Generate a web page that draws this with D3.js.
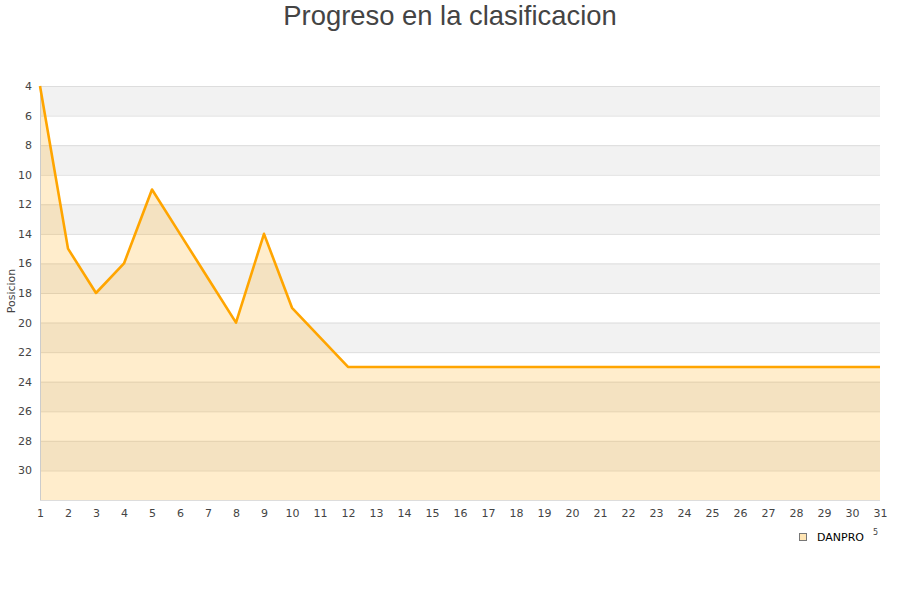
<!DOCTYPE html>
<html>
<head>
<meta charset="utf-8">
<script src="https://cdn.jsdelivr.net/npm/d3@7"></script>
<style>
  html, body { margin: 0; padding: 0; background: #fff; }
  svg { display: block; }
</style>
</head>
<body>
<svg id="chart" width="900" height="600"></svg>
<script>
// Round number (jornada) and the team's league position after it
const rounds = d3.range(1, 32);
const positions = [4, 15, 18, 16, 11, 14, 17, 20, 14, 19, 21, 23,
  23, 23, 23, 23, 23, 23, 23, 23, 23, 23, 23, 23, 23, 23, 23, 23, 23, 23, 23];
const yTicks = [4, 6, 8, 10, 12, 14, 16, 18, 20, 22, 24, 26, 28, 30];
const seriesName = "DANPRO";

const svg = d3.select("#chart");
const W = 900, H = 600;
const m = { left: 40, right: 20, top: 86, bottom: 100 };

const x = d3.scaleLinear().domain([1, 31]).range([m.left, W - m.right]);
const y = d3.scaleLinear().domain([4, 32]).range([m.top, H - m.bottom]);

// Title
svg.append("text")
  .attr("x", W / 2).attr("y", 25)
  .attr("text-anchor", "middle")
  .attr("font-family", "Liberation Sans, Arial, sans-serif")
  .attr("font-size", 27.4)
  .attr("fill", "#444")
  .text("Progreso en la clasificacion");

// Alternating horizontal bands, two positions each
const bands = d3.range(4, 32, 2);
svg.append("g").selectAll("rect")
  .data(bands)
  .join("rect")
  .attr("x", m.left)
  .attr("width", W - m.right - m.left)
  .attr("y", d => y(d))
  .attr("height", d => y(d + 2) - y(d))
  .attr("fill", (d, i) => i % 2 === 0 ? "#f2f2f2" : "#ffffff");

// Grid lines
svg.append("g").selectAll("line")
  .data(yTicks.concat([32]))
  .join("line")
  .attr("x1", m.left).attr("x2", W - m.right)
  .attr("y1", d => y(d) + 0.5).attr("y2", d => y(d) + 0.5)
  .attr("stroke", "#dddddd").attr("stroke-width", 1);

// Area under the position line
const pts = rounds.map((r, i) => [r, positions[i]]);
svg.append("path")
  .datum(pts)
  .attr("fill", "rgba(255,165,0,0.2)")
  .attr("d", d3.area().x(d => x(d[0])).y0(y(32)).y1(d => y(d[1])));

// Plot frame: left axis line
svg.append("line")
  .attr("x1", m.left + 0.5).attr("x2", m.left + 0.5)
  .attr("y1", m.top).attr("y2", y(32))
  .attr("stroke", "#cccccc");

// Position line
svg.append("path")
  .datum(pts)
  .attr("fill", "none")
  .attr("stroke", "#ffa500")
  .attr("stroke-width", 2.6)
  .attr("stroke-linejoin", "round")
  .attr("d", d3.line().x(d => x(d[0])).y(d => y(d[1])));

// Y axis labels
const yAxis = d3.axisLeft(y).tickValues(yTicks).tickSize(0).tickPadding(8);
const gy = svg.append("g").attr("transform", `translate(${m.left},0)`).call(yAxis);
gy.select(".domain").remove();
gy.selectAll("text")
  .attr("font-family", "DejaVu Sans, sans-serif")
  .attr("font-size", 11)
  .attr("fill", "#444");

// X axis labels
const xAxis = d3.axisBottom(x).tickValues(rounds).tickFormat(d3.format("d")).tickSize(0).tickPadding(9);
const gx = svg.append("g").attr("transform", `translate(0,${y(32)})`).call(xAxis);
gx.select(".domain").remove();
gx.selectAll("text")
  .attr("font-family", "DejaVu Sans, sans-serif")
  .attr("font-size", 11)
  .attr("fill", "#444");

// Y axis title
svg.append("text")
  .attr("transform", `translate(15,${(m.top + y(32)) / 2 - 2}) rotate(-90)`)
  .attr("text-anchor", "middle")
  .attr("font-family", "DejaVu Sans, sans-serif")
  .attr("font-size", 11)
  .attr("fill", "#444")
  .text("Posicion");

// Legend
const lg = svg.append("g").attr("transform", "translate(799,533)");
lg.append("rect")
  .attr("x", 0.5).attr("y", 0.5).attr("width", 7).attr("height", 7)
  .attr("fill", "#ffe5b4").attr("stroke", "#777");
lg.append("text")
  .attr("x", 18).attr("y", 7.5)
  .attr("font-family", "DejaVu Sans, sans-serif")
  .attr("font-size", 11)
  .attr("fill", "#000")
  .text(seriesName);
svg.append("text")
  .attr("x", 873).attr("y", 535)
  .attr("font-family", "DejaVu Sans, sans-serif")
  .attr("font-size", 8)
  .attr("fill", "#444")
  .text("5");
</script>
</body>
</html>
